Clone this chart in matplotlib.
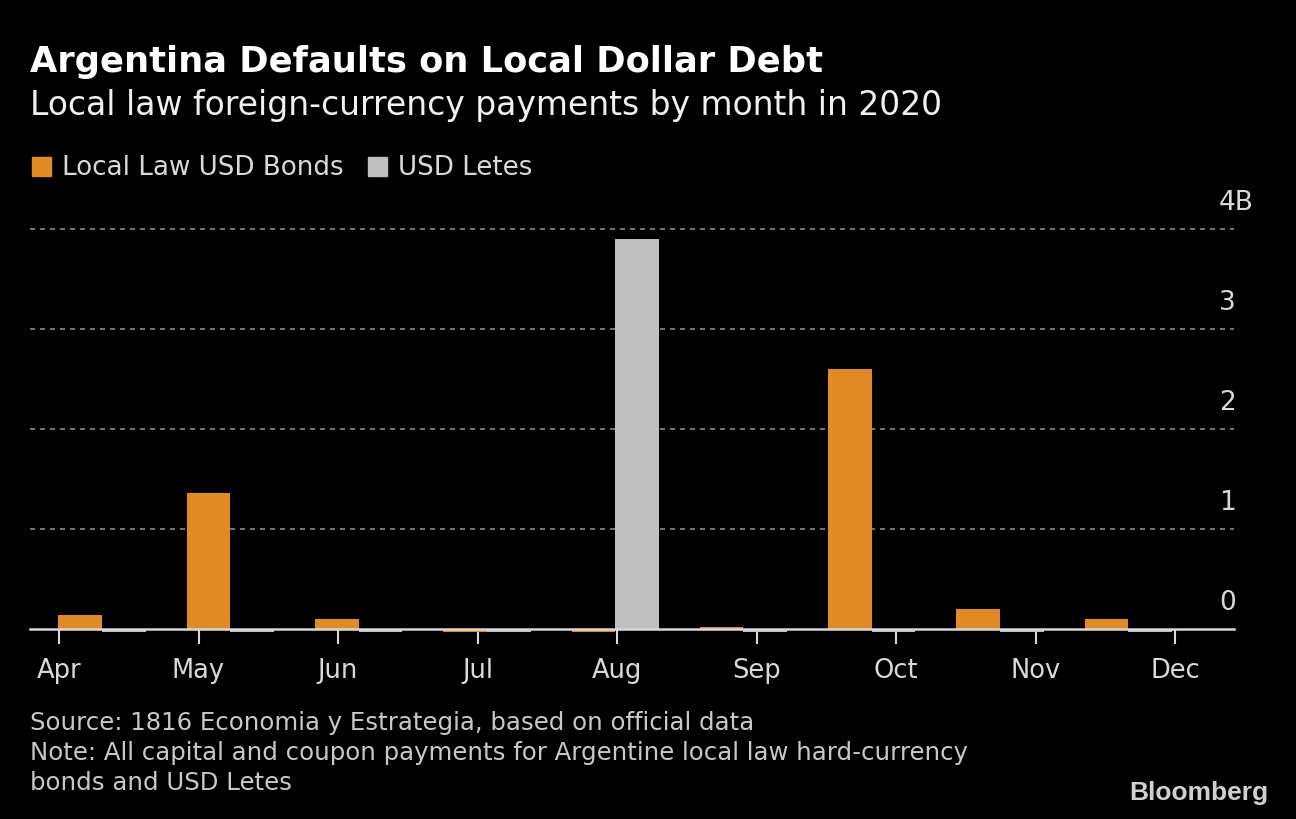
import numpy as np
import matplotlib
matplotlib.use("Agg")
import matplotlib.pyplot as plt
from matplotlib import transforms

# data (billions USD)
months = ["Apr", "May", "Jun", "Jul", "Aug", "Sep", "Oct", "Nov", "Dec"]
bonds = [0.14, 1.36, 0.10, -0.025, -0.025, 0.02, 2.60, 0.20, 0.10]
letes = [-0.025, -0.025, -0.025, -0.025, 3.90, -0.025, -0.025, -0.025, -0.025]
y_ticks = [0, 1, 2, 3, 4]
y_labels = ["0", "1", "2", "3", "4B"]

ORANGE = "#E08B25"
GRAY = "#BFBFBF"
BG = "#000000"
TXT = "#d9d9d9"

plt.rcParams["font.family"] = ["DejaVu Sans"]

fig = plt.figure(figsize=(12.96, 8.2), dpi=100)
fig.patch.set_facecolor(BG)

# axes: y=0 sits at pixel row 630, 4B at row 230
ax = fig.add_axes([30 / 1296, (820 - 630) / 820, 1204 / 1296, 410 / 820])
ax.set_facecolor(BG)

x = np.arange(len(months))
w = 0.34
ax.bar(x - w / 2, bonds, w, color=ORANGE, zorder=2, clip_on=False)
ax.bar(x + w / 2, letes, w, color=GRAY, zorder=2, clip_on=False)

ax.set_xlim(-0.561, 8.823)
ax.set_ylim(0, 4.1)

# gridlines
for v in y_ticks[1:]:
    ax.axhline(v, color="#8a8a8a", lw=1.2, ls=(0, (3, 3)), zorder=1)
ax.axhline(0, color=TXT, lw=1.8, zorder=3, clip_on=False)

# y labels on the right, just above each gridline
trans = transforms.blended_transform_factory(fig.transFigure, ax.transData)
for v, lab in zip(y_ticks, y_labels):
    ax.text(1219 / 1296, v + 0.27, lab, transform=trans, ha="left", va="center",
            fontsize=19, color=TXT)

# month ticks (date axis positions, not aligned with bar groups)
tick_pos = -0.335 + 1.0873 * np.arange(len(months))
ax.set_xticks(tick_pos)
ax.set_xticklabels(months, fontsize=18.5, color=TXT)
ax.tick_params(axis="x", length=11, width=1.5, color=TXT, pad=9)
ax.set_yticks([])
for s in ax.spines.values():
    s.set_visible(False)

# titles
fig.text(30 / 1296, 1 - 62 / 820, "Argentina Defaults on Local Dollar Debt",
         fontsize=25.4, fontweight="bold", color="white", va="center")
fig.text(30 / 1296, 1 - 105 / 820, "Local law foreign-currency payments by month in 2020",
         fontsize=23.8, color="#f0f0f0", va="center")

# legend
fig.patches.append(plt.Rectangle((32 / 1296, 1 - 177 / 820), 19 / 1296, 19 / 820,
                                 transform=fig.transFigure, color=ORANGE))
fig.text(62 / 1296, 1 - 168 / 820, "Local Law USD Bonds", fontsize=18.8, color=TXT, va="center")
fig.patches.append(plt.Rectangle((368 / 1296, 1 - 177 / 820), 19 / 1296, 19 / 820,
                                 transform=fig.transFigure, color=GRAY))
fig.text(398 / 1296, 1 - 168 / 820, "USD Letes", fontsize=18.8, color=TXT, va="center")

# footer
foot = ["Source: 1816 Economia y Estrategia, based on official data",
        "Note: All capital and coupon payments for Argentine local law hard-currency",
        "bonds and USD Letes"]
for i, line in enumerate(foot):
    fig.text(30 / 1296, 1 - (723 + 30 * i) / 820, line, fontsize=17.6, color="#c8c8c8", va="center")
fig.text(1268 / 1296, 1 - 793 / 820, "Bloomberg", fontsize=19, fontweight="bold",
         family=["Liberation Sans", "DejaVu Sans"], color="#d0d0d0", ha="right", va="center")

fig.savefig("out.png", dpi=100, facecolor=BG)
